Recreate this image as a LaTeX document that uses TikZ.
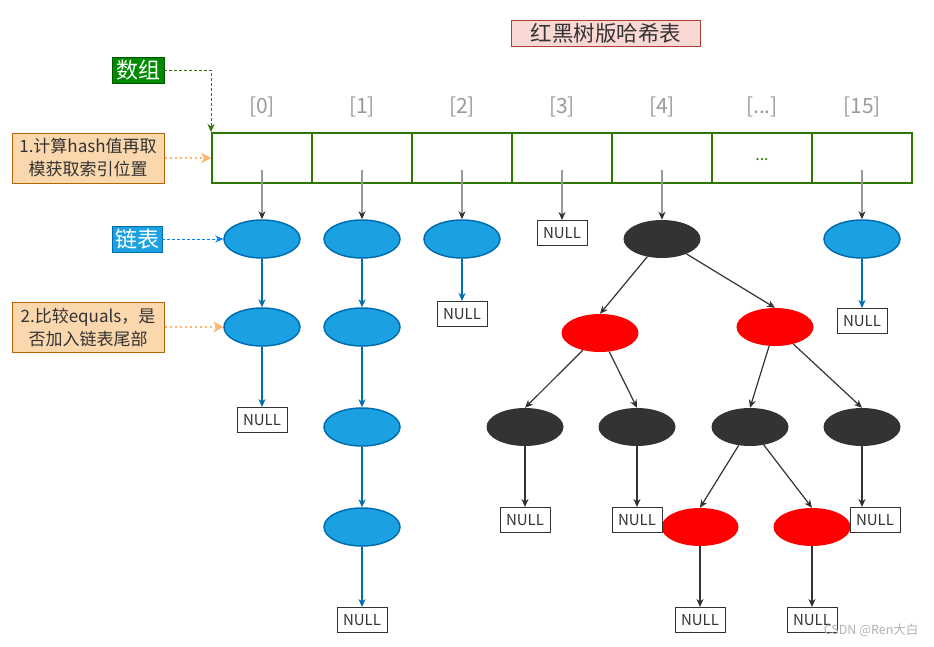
\documentclass[tikz,border=0pt]{standalone}
\usepackage{fontspec}
\setmainfont{Noto Sans CJK SC}
\usepackage{tikz}
\usetikzlibrary{positioning}
\usetikzlibrary{shapes.geometric,arrows.meta}

\definecolor{cellgreen}{HTML}{2D7600}
\definecolor{idxgray}{HTML}{9A9A9A}
\definecolor{boxgreen}{HTML}{008A00}
\definecolor{boxgreenline}{HTML}{005700}
\definecolor{notefill}{HTML}{FAD7AC}
\definecolor{noteline}{HTML}{B46504}
\definecolor{noteorange}{HTML}{FFB570}
\definecolor{listblue}{HTML}{1BA1E2}
\definecolor{listline}{HTML}{006EAF}
\definecolor{dashblue}{HTML}{007FFF}
\definecolor{titlefill}{HTML}{FAD9D5}
\definecolor{titleline}{HTML}{AE4132}
\definecolor{treeblack}{HTML}{333333}
\definecolor{treered}{HTML}{FF0000}

\newcommand{\ellipsislabel}{...}

\begin{document}
\begin{tikzpicture}[x=1pt,y=-1pt,
    cell/.style={draw=cellgreen,line width=2pt,minimum width=100pt,minimum height=50pt,inner sep=0pt},
    idxlabel/.style={text=idxgray,font=\fontsize{21}{23}\selectfont},
    titlebox/.style={draw=titleline,fill=titlefill,line width=1pt,minimum width=189pt,minimum height=26pt,inner sep=0pt,font=\fontsize{21.5}{23}\selectfont,text=treeblack},
    greenbox/.style={draw=boxgreenline,fill=boxgreen,text=white,minimum width=52pt,minimum height=26pt,inner sep=0pt,font=\fontsize{22}{23}\selectfont},
    bluebox/.style={draw=listline,fill=listblue,text=white,minimum width=50pt,minimum height=26pt,inner sep=0pt,font=\fontsize{22}{23}\selectfont},
    notebox/.style={draw=noteline,fill=notefill,line width=1pt,minimum width=152pt,minimum height=50pt,inner sep=0pt,align=center,text=treeblack,font=\fontsize{17}{23}\selectfont},
    listnode/.style={ellipse,draw=listline,fill=listblue,line width=1.5pt,minimum width=76pt,minimum height=38pt,inner sep=0pt},
    blacknode/.style={ellipse,fill=treeblack,minimum width=77pt,minimum height=38pt,inner sep=0pt},
    rednode/.style={ellipse,fill=treered,minimum width=77pt,minimum height=38pt,inner sep=0pt},
    nullbox/.style={draw=treeblack,fill=white,line width=1pt,minimum width=50pt,minimum height=25pt,inner sep=0pt,text=treeblack,font=\fontsize{15}{16}\selectfont},
    cellarrow/.style={draw=black!40,line width=1.2pt,-{Stealth[length=8pt,width=7pt,inset=2.5pt,color=treeblack]}},
    listarrow/.style={draw=listline,line width=1.2pt,-{Stealth[length=8pt,width=7pt,inset=2.5pt]}},
    treearrow/.style={draw=treeblack,line width=1.2pt,-{Stealth[length=8pt,width=7pt,inset=2.5pt]}},
    greendash/.style={draw=cellgreen,line width=1pt,dash pattern=on 3pt off 2pt,-{Stealth[length=8pt,width=7pt,inset=2.5pt]}},
    bluedash/.style={draw=dashblue,line width=1pt,dash pattern=on 3pt off 2pt,-{Stealth[length=8pt,width=7pt,inset=2.5pt]}},
    orangedot/.style={draw=noteorange,line width=2pt,dash pattern=on 2pt off 3pt,-{Stealth[length=10pt,width=11pt,inset=3pt,line width=0pt]}}]

  \useasboundingbox (0,0) rectangle (934,646);

  % Draw title
  \node[titlebox] (title) at (606,33) {红黑树版哈希表};

  % Draw array cells and index labels
  \foreach \i/\lab in {0/0,1/1,2/2,3/3,4/4,5/\ellipsislabel,6/15} {
    \node[cell] (c\i) at ({262+100*\i},158) {};
    \node[idxlabel] (l\i) at ({262+100*\i},107) {[\lab]};
  }
  \node[text=cellgreen,font=\fontsize{16}{16}\selectfont] (dots) at (762,160) {...};

  % Draw notes on the left
  \node[greenbox] (arr) at (138,70) {数组};
  \node[notebox] (note1) at (88,158) {1.计算hash值再取\\模获取索引位置};
  \node[bluebox] (lst) at (137,239) {链表};
  \node[notebox] (note2) at (88,327) {2.比较equals，是\\否加入链表尾部};

  % Linked lists
  \node[listnode] (b00) at (262,239) {};
  \node[listnode] (b01) at (262,327) {};
  \node[nullbox] (n0) at (262,420) {NULL};
  \node[listnode] (b10) at (362,239) {};
  \node[listnode] (b11) at (362,327) {};
  \node[listnode] (b12) at (362,427) {};
  \node[listnode] (b13) at (362,527) {};
  \node[nullbox] (n1) at (362,620) {NULL};
  \node[listnode] (b20) at (462,239) {};
  \node[nullbox] (n2) at (462,314) {NULL};
  \node[nullbox] (n3) at (562,233) {NULL};
  \node[listnode] (b60) at (862,239) {};
  \node[nullbox] (n6) at (862,321) {NULL};

  % Red-black tree
  \node[blacknode] (rb) at (662,239) {};
  \node[rednode] (r1) at (600,333) {};
  \node[rednode] (r2) at (775,327) {};
  \node[blacknode] (k1) at (525,427) {};
  \node[blacknode] (k2) at (637,427) {};
  \node[blacknode] (k3) at (750,427) {};
  \node[blacknode] (k4) at (862,427) {};
  \node[rednode] (r3) at (700,527) {};
  \node[rednode] (r4) at (812,527) {};
  \node[nullbox] (nk1) at (525,520) {NULL};
  \node[nullbox] (nk2) at (637,520) {NULL};
  \node[nullbox] (nk4) at (875,520) {NULL};
  \node[nullbox] (nr3) at (700,620) {NULL};
  \node[nullbox] (nr4) at (812,620) {NULL};

  % Connectors
  \draw[greendash] (arr.east) -| (c0.north west);
  \draw[orangedot] (note1.east) -- (c0.west);
  \draw[bluedash] (lst.east) -- (b00.west);
  \draw[orangedot] (note2.east) -- (b01.west);

  \foreach \i/\t in {0/b00,1/b10,2/b20,3/n3,4/rb,6/b60}
    \draw[cellarrow] ([yshift=-12pt]c\i.center) -- (\t);

  \foreach \a/\b in {b00/b01,b01/n0,b10/b11,b11/b12,b12/b13,b13/n1,b20/n2,b60/n6}
    \draw[listarrow] (\a) -- (\b);

  \foreach \a/\b in {rb/r1,rb/r2,r1/k1,r1/k2,r2/k3,r2/k4,k3/r3,k3/r4}
    \draw[treearrow] (\a) -- (\b.north);
  \foreach \a/\b in {k1/nk1,k2/nk2,r3/nr3,r4/nr4}
    \draw[treearrow] (\a) -- (\b);
  \draw[treearrow] (k4) -- (k4 |- nk4.north);

  % Watermark
  \node[text=black!30,font=\fontsize{12.5}{14}\selectfont,anchor=east] (mark) at (922,630) {CSDN @Ren大白};

\end{tikzpicture}
\end{document}
